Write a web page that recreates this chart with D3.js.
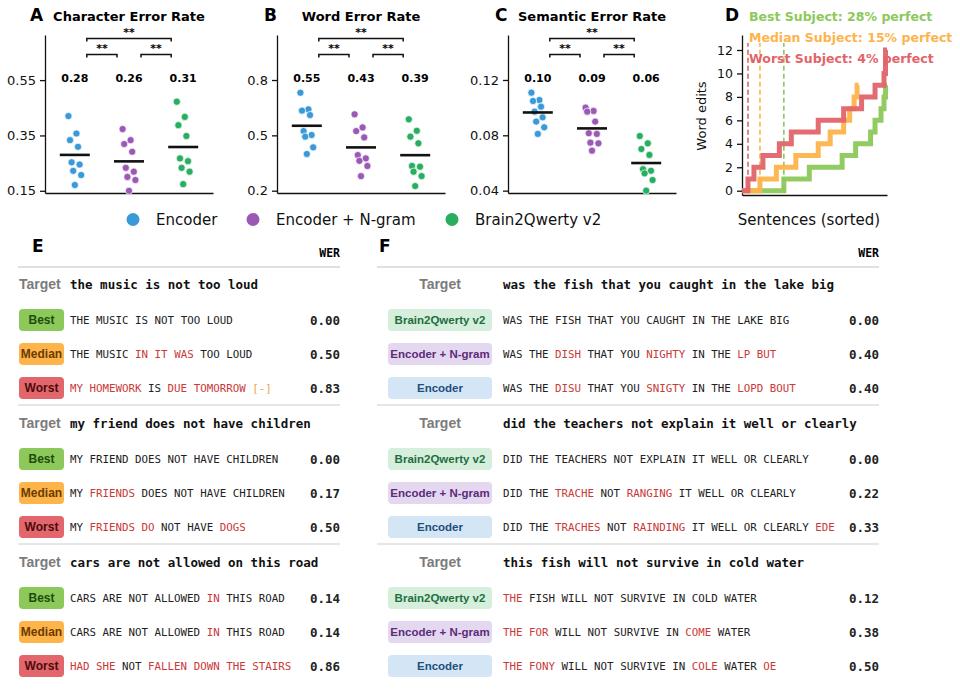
<!DOCTYPE html>
<html>
<head>
<meta charset="utf-8">
<script src="https://cdn.jsdelivr.net/npm/d3@7"></script>
<style>
  body { margin: 0; background: #fff; }
  svg text { white-space: pre; }
</style>
</head>
<body>
<div id="chart"></div>
<script>
// ---------- data ----------
const models = ["Encoder", "Encoder + N-gram", "Brain2Qwerty v2"];
const modelColors = ["#3a9ad9", "#9b59b6", "#27ae60"];

// per-subject scores (panels A-C)
const cerEncoder = [0.42, 0.357, 0.333, 0.309, 0.253, 0.245, 0.222, 0.207, 0.171];
const cerNgram   = [0.373, 0.333, 0.319, 0.291, 0.233, 0.219, 0.200, 0.189, 0.150];
const cerB2Q     = [0.472, 0.417, 0.387, 0.348, 0.267, 0.257, 0.233, 0.219, 0.174];
const cerLabels  = ["0.28", "0.26", "0.31"];

const werEncoder = [0.731, 0.641, 0.634, 0.610, 0.523, 0.502, 0.493, 0.435, 0.399];
const werNgram   = [0.614, 0.543, 0.523, 0.489, 0.393, 0.375, 0.362, 0.334, 0.279];
const werB2Q     = [0.587, 0.525, 0.493, 0.457, 0.334, 0.330, 0.303, 0.279, 0.225];
const werLabels  = ["0.55", "0.43", "0.39"];

const serEncoder = [0.1108, 0.1055, 0.1048, 0.1007, 0.0971, 0.0930, 0.0899, 0.0858, 0.0810];
const serNgram   = [0.1000, 0.0976, 0.0971, 0.0899, 0.0815, 0.0810, 0.0747, 0.0742, 0.0689];
const serB2Q     = [0.0795, 0.0742, 0.0701, 0.0658, 0.0555, 0.0544, 0.0525, 0.0477, 0.0400];
const serLabels  = ["0.10", "0.09", "0.06"];

// panel D: number of sentences with 0,1,2,... word edits
const subjects = ["Best", "Median", "Worst"];
const subjectColors = ["#8cc85a", "#fdb44b", "#e2646a"];
const bestCounts   = [28, 17, 22, 9, 10, 3, 4, 2, 1, 1];
const medianCounts = [12, 11, 13, 15, 8, 9, 4, 3, 2, 1];
const worstCounts  = [4, 4, 6, 11, 8, 18, 17, 12, 9, 6, 1, 0, 1];
const subjectLabels = ["Best Subject: 28% perfect", "Median Subject: 15% perfect", "Worst Subject: 4% perfect"];
const editTicks = [0, 2, 4, 6, 8, 10, 12];

// panel E/F sentences. "*" marks a wrong word, "~" a deletion marker
const targetsE = ["the music is not too loud", "my friend does not have children", "cars are not allowed on this road"];
const predsE = [
  ["THE MUSIC IS NOT TOO LOUD", "THE MUSIC *IN *IT *WAS TOO LOUD", "*MY *HOMEWORK IS *DUE *TOMORROW ~[-]"],
  ["MY FRIEND DOES NOT HAVE CHILDREN", "MY *FRIENDS DOES NOT HAVE CHILDREN", "MY *FRIENDS *DO NOT HAVE *DOGS"],
  ["CARS ARE NOT ALLOWED *IN THIS ROAD", "CARS ARE NOT ALLOWED *IN THIS ROAD", "*HAD *SHE NOT *FALLEN *DOWN *THE *STAIRS"]
];
const werE = [["0.00", "0.50", "0.83"], ["0.00", "0.17", "0.50"], ["0.14", "0.14", "0.86"]];

const targetsF = ["was the fish that you caught in the lake big", "did the teachers not explain it well or clearly", "this fish will not survive in cold water"];
const predsF = [
  ["WAS THE FISH THAT YOU CAUGHT IN THE LAKE BIG", "WAS THE *DISH THAT YOU *NIGHTY IN THE *LP *BUT", "WAS THE *DISU THAT YOU *SNIGTY IN THE *LOPD *BOUT"],
  ["DID THE TEACHERS NOT EXPLAIN IT WELL OR CLEARLY", "DID THE *TRACHE NOT *RANGING IT WELL OR CLEARLY", "DID THE *TRACHES NOT *RAINDING IT WELL OR CLEARLY *EDE"],
  ["*THE FISH WILL NOT SURVIVE IN COLD WATER", "*THE *FOR WILL NOT SURVIVE IN *COME WATER", "*THE *FONY WILL NOT SURVIVE IN *COLE WATER *OE"]
];
const werF = [["0.00", "0.40", "0.40"], ["0.00", "0.22", "0.33"], ["0.12", "0.38", "0.50"]];
const modelsF = ["Brain2Qwerty v2", "Encoder + N-gram", "Encoder"];

// ---------- drawing ----------
const W = 960, H = 699;
const SANS = "DejaVu Sans", HELV = "Liberation Sans, Arial, sans-serif", MONO = "DejaVu Sans Mono, monospace";

const svg = d3.select("#chart").append("svg")
  .attr("width", W).attr("height", H)
  .style("font-family", SANS);

// panels A-C
const panels = [
  { letter: "A", letterX: 30, title: "Character Error Rate", x0: 45, domain: [0.142, 0.713], ticks: [0.15, 0.35, 0.55], fmt: ".2f", series: [cerEncoder, cerNgram, cerB2Q], labels: cerLabels },
  { letter: "B", letterX: 264, title: "Word Error Rate", x0: 277, domain: [0.1875, 1.044], ticks: [0.2, 0.5, 0.8], fmt: ".1f", series: [werEncoder, werNgram, werB2Q], labels: werLabels },
  { letter: "C", letterX: 495, title: "Semantic Error Rate", x0: 508, domain: [0.0383, 0.1525], ticks: [0.04, 0.08, 0.12], fmt: ".2f", series: [serEncoder, serNgram, serB2Q], labels: serLabels }
];
const plotTop = 35, plotBottom = 193, plotW = 168;

panels.forEach(p => {
  const g = svg.append("g");
  const x = d3.scalePoint().domain(models).range([p.x0, p.x0 + plotW]).padding(0.55);
  const y = d3.scaleLinear().domain(p.domain).range([plotBottom, plotTop]);

  const ya = g.append("g").attr("transform", `translate(${p.x0},0)`)
    .call(d3.axisLeft(y).tickValues(p.ticks).tickFormat(d3.format(p.fmt)).tickSize(5).tickPadding(4).tickSizeOuter(0));
  const xa = g.append("g").attr("transform", `translate(0,${plotBottom})`)
    .call(d3.axisBottom(x).tickValues([]).tickSizeOuter(0));
  [ya, xa].forEach(a => {
    a.selectAll("path, line").attr("stroke", "#111").attr("stroke-width", 1.3);
    a.selectAll("text").attr("font-family", SANS).attr("font-size", 13).attr("fill", "#111");
  });

  g.append("text").attr("x", p.letterX).attr("y", 21).attr("font-size", 17).attr("font-weight", "bold").text(p.letter);
  g.append("text").attr("x", p.x0 + plotW / 2).attr("y", 21).attr("text-anchor", "middle")
    .attr("font-size", 13).attr("font-weight", "bold").text(p.title);

  p.series.forEach((vals, k) => {
    const cx = x(models[k]);
    g.selectAll(null).data(vals).enter().append("circle")
      .attr("cx", (d, i) => cx + ((i * 5) % 9 - 4) * 1.6)
      .attr("cy", d => y(d))
      .attr("r", 3.6)
      .attr("fill", modelColors[k])
      .attr("stroke", "#fff").attr("stroke-width", 0.7);
    const m = d3.mean(vals);
    g.append("line").attr("x1", cx - 15).attr("x2", cx + 15).attr("y1", y(m)).attr("y2", y(m))
      .attr("stroke", "#111").attr("stroke-width", 2.6);
    g.append("text").attr("x", cx).attr("y", 81.5).attr("text-anchor", "middle")
      .attr("font-size", 11).attr("font-weight", "bold").text(p.labels[k]);
  });

  // significance brackets
  const pairs = [[0, 1, 54.5, 52], [1, 2, 54.5, 52], [0, 2, 38.5, 36]];
  pairs.forEach(([a, b, by, ty]) => {
    const xa1 = x(models[a]) + 12, xb1 = x(models[b]) - 12;
    g.append("path").attr("d", `M${xa1},${by + 3}V${by}H${xb1}V${by + 3}`)
      .attr("fill", "none").attr("stroke", "#111").attr("stroke-width", 1.5);
    g.append("text").attr("x", (xa1 + xb1) / 2).attr("y", ty).attr("text-anchor", "middle")
      .attr("font-size", 11).attr("font-weight", "bold").text("**");
  });
});

// legend
const legX = [133, 253, 452];
models.forEach((m, k) => {
  svg.append("circle").attr("cx", legX[k]).attr("cy", 219.5).attr("r", 6.5).attr("fill", modelColors[k]);
  svg.append("text").attr("x", legX[k] + 23).attr("y", 225).attr("font-size", 15).attr("fill", "#111").text(m);
});

// panel D
{
  const g = svg.append("g");
  const x0 = 742, x1 = 887, yTop = 35, yBot = 195;
  const xD = d3.scaleLinear().domain([0, 97]).range([x0, x1]);
  const yD = d3.scaleLinear().domain([-0.366, 13.28]).range([yBot, yTop]);

  const ya = g.append("g").attr("transform", `translate(${x0},0)`)
    .call(d3.axisLeft(yD).tickValues(editTicks).tickSize(5).tickPadding(4).tickSizeOuter(0));
  const xa = g.append("g").attr("transform", `translate(0,${yBot})`)
    .call(d3.axisBottom(xD).tickValues([]).tickSizeOuter(0));
  [ya, xa].forEach(a => {
    a.selectAll("path, line").attr("stroke", "#111").attr("stroke-width", 1.3);
    a.selectAll("text").attr("font-family", SANS).attr("font-size", 12.5).attr("fill", "#111");
  });
  g.append("text").attr("transform", `translate(706,116) rotate(-90)`).attr("text-anchor", "middle")
    .attr("font-size", 13).attr("fill", "#111").text("Word edits");
  g.append("text").attr("x", 809).attr("y", 225).attr("text-anchor", "middle")
    .attr("font-size", 15).attr("fill", "#111").text("Sentences (sorted)");
  g.append("text").attr("x", 725).attr("y", 21).attr("font-size", 17).attr("font-weight", "bold").text("D");

  const counts = [bestCounts, medianCounts, worstCounts];
  const line = d3.line().x(d => xD(d[0])).y(d => yD(d[1])).curve(d3.curveStepAfter);
  counts.forEach((c, k) => {
    const vals = [];
    c.forEach((n, v) => { for (let j = 0; j < n; j++) vals.push(v); });
    const pts = vals.map((v, i) => [i, v]);
    pts.push([vals.length, vals[vals.length - 1]]);
    // dashed marker at the number of perfect sentences
    g.append("line").attr("x1", xD(c[0])).attr("x2", xD(c[0]))
      .attr("y1", yD(0)).attr("y2", yD(12.6))
      .attr("stroke", subjectColors[k]).attr("stroke-width", 1.6).attr("stroke-dasharray", "5,3");
    g.append("path").datum(pts).attr("d", line)
      .attr("fill", "none").attr("stroke", subjectColors[k]).attr("stroke-width", 5)
      .attr("stroke-opacity", 0.95);
  });
  subjectLabels.forEach((t, k) => {
    g.append("text").attr("x", 749).attr("y", 21 + k * 20.8).attr("font-size", 12.5).attr("font-weight", "bold")
      .attr("fill", subjectColors[k]).text(t);
  });
}

// panels E and F
const pillE = [
  { fill: "#8cc85a", text: "#1c4d0c" },
  { fill: "#fdb44b", text: "#6b3b00" },
  { fill: "#e2666b", text: "#4a0c0c" }
];
const pillF = [
  { fill: "#d5efdc", text: "#1f6e3f" },
  { fill: "#e4d7f0", text: "#5c2c78" },
  { fill: "#d4e6f6", text: "#1d4f7c" }
];
const blockY = d3.scaleLinear().domain([0, 1]).range([284, 423]);
const rowY = d3.scalePoint().domain([0, 1, 2]).range([36, 104]);

function drawTokens(g, str, x, y) {
  const t = g.append("text").attr("x", x).attr("y", y).attr("dominant-baseline", "central")
    .attr("font-family", MONO).attr("font-size", 10.8).attr("fill", "#222");
  str.split(" ").forEach((w, i) => {
    let fill = "#222", txt = w;
    if (w[0] === "*") { fill = "#c93a38"; txt = w.slice(1); }
    else if (w[0] === "~") { fill = "#f0a04b"; txt = w.slice(1); }
    if (i > 0) t.append("tspan").attr("fill", "#222").text(" ");
    t.append("tspan").attr("fill", fill).text(txt);
  });
}

function drawTable(cfg) {
  const g = svg.append("g");
  g.append("text").attr("x", cfg.letterX).attr("y", 252).attr("font-size", 17).attr("font-weight", "bold").text(cfg.letter);
  g.append("text").attr("x", cfg.right).attr("y", 257).attr("text-anchor", "end")
    .attr("font-family", MONO).attr("font-size", 11.5).attr("font-weight", "bold").text("WER");
  g.append("line").attr("x1", cfg.left).attr("x2", cfg.right).attr("y1", 267).attr("y2", 267)
    .attr("stroke", "#d6d6d6").attr("stroke-width", 1.5);

  cfg.targets.forEach((target, b) => {
    const ty = blockY(b);
    if (b > 0) {
      g.append("line").attr("x1", cfg.left).attr("x2", cfg.right).attr("y1", ty - 18).attr("y2", ty - 18)
        .attr("stroke", "#dedede").attr("stroke-width", 1.5);
    }
    g.append("text").attr("x", cfg.targetLabelX).attr("y", ty).attr("dominant-baseline", "central")
      .attr("text-anchor", cfg.targetAnchor)
      .attr("font-family", HELV).attr("font-size", 14).attr("font-weight", "bold").attr("fill", "#7b7b7b").text("Target");
    g.append("text").attr("x", cfg.textX).attr("y", ty).attr("dominant-baseline", "central")
      .attr("font-family", MONO).attr("font-size", 12.5).attr("font-weight", "bold").attr("fill", "#111").text(target);

    cfg.preds[b].forEach((pred, r) => {
      const ry = ty + rowY(r);
      const pc = cfg.pills[r];
      g.append("rect").attr("x", cfg.pillX).attr("y", ry - 11).attr("width", cfg.pillW).attr("height", 22)
        .attr("rx", 4).attr("fill", pc.fill);
      g.append("text").attr("x", cfg.pillX + cfg.pillW / 2).attr("y", ry).attr("dominant-baseline", "central")
        .attr("text-anchor", "middle").attr("font-family", HELV).attr("font-size", cfg.pillFont)
        .attr("font-weight", "bold").attr("fill", pc.text).text(cfg.labels[r]);
      drawTokens(g, pred, cfg.textX, ry);
      g.append("text").attr("x", cfg.right).attr("y", ry).attr("dominant-baseline", "central").attr("text-anchor", "end")
        .attr("font-family", MONO).attr("font-size", 12.5).attr("font-weight", "bold").attr("fill", "#222")
        .text(cfg.wer[b][r]);
    });
  });
}

drawTable({
  letter: "E", letterX: 32, left: 18, right: 340, textX: 70, pillX: 19, pillW: 45, pillFont: 12,
  targetLabelX: 19, targetAnchor: "start",
  targets: targetsE, preds: predsE, wer: werE, labels: subjects, pills: pillE
});
drawTable({
  letter: "F", letterX: 379, left: 377, right: 879, textX: 503, pillX: 388, pillW: 104, pillFont: 11.5,
  targetLabelX: 440, targetAnchor: "middle",
  targets: targetsF, preds: predsF, wer: werF, labels: modelsF, pills: pillF
});
</script>
</body>
</html>
